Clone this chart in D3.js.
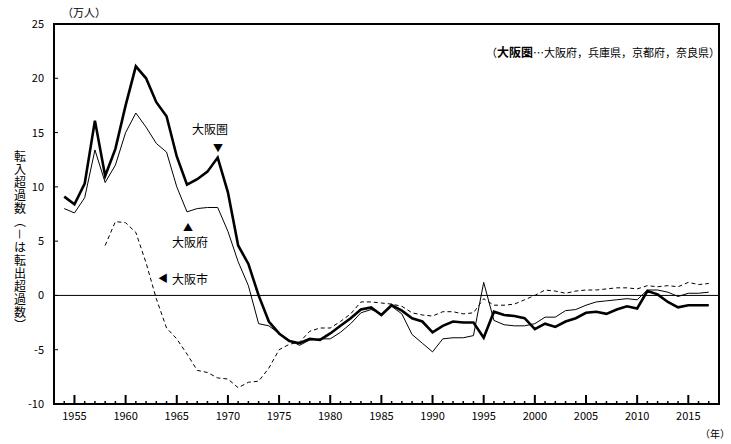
<!DOCTYPE html>
<html><head><meta charset="utf-8">
<script src="https://cdn.jsdelivr.net/npm/d3@7"></script>
<style>body{margin:0;background:#fff}text{font-family:"Noto Sans CJK JP",sans-serif}</style>
</head><body>
<svg width="731" height="444"></svg>
<script>
var years = d3.range(1954, 2018);
var kenValues = [9.1,8.4,10.3,16.1,11.0,13.5,17.5,21.1,20.0,17.8,16.5,12.8,10.2,10.7,11.4,12.7,9.5,4.6,2.9,0.0,-2.4,-3.5,-4.2,-4.4,-4.0,-4.1,-3.5,-2.8,-2.1,-1.3,-1.1,-1.8,-0.9,-1.4,-2.1,-2.4,-3.4,-2.8,-2.4,-2.5,-2.5,-3.9,-1.5,-1.8,-1.9,-2.1,-3.1,-2.6,-2.9,-2.4,-2.1,-1.6,-1.5,-1.7,-1.3,-1.0,-1.2,0.4,0.1,-0.6,-1.1,-0.9,-0.9,-0.9];
var fuValues = [8.0,7.6,9.0,13.4,10.4,12.0,15.0,16.8,15.5,14.0,13.2,10.0,7.7,8.0,8.1,8.1,5.9,3.1,0.9,-2.6,-2.8,-3.5,-4.1,-4.6,-4.1,-4.0,-4.0,-3.4,-2.6,-1.6,-1.3,-1.7,-1.0,-1.7,-3.6,-4.4,-5.2,-4.0,-3.9,-3.9,-3.7,1.2,-2.3,-2.7,-2.8,-2.8,-2.6,-2.0,-2.0,-1.4,-1.3,-0.9,-0.6,-0.5,-0.4,-0.3,-0.4,0.5,0.5,0.3,-0.1,0.2,0.2,0.3];
var shiYears = d3.range(1958, 2018);
var shiValues = [4.6,6.8,6.7,5.8,3.0,-0.3,-3.0,-4.0,-5.4,-6.9,-7.1,-7.6,-7.7,-8.5,-8.0,-7.9,-6.7,-5.0,-4.5,-4.3,-3.3,-3.0,-3.0,-2.4,-1.7,-0.6,-0.6,-0.7,-0.8,-1.0,-1.6,-1.8,-1.9,-1.5,-1.5,-1.7,-1.6,-0.3,-0.9,-0.9,-0.8,-0.4,0.0,0.5,0.4,0.2,0.4,0.5,0.5,0.6,0.7,0.7,0.6,0.9,0.8,0.9,0.8,1.2,1.0,1.1];
var yTicks = [25,20,15,10,5,0,-5,-10];
var xTicks = [1955,1960,1965,1970,1975,1980,1985,1990,1995,2000,2005,2010,2015];

var svg = d3.select("svg");
var L = 54, R = 719, T = 24, B = 404;
var x = d3.scaleLinear().domain([1953, 2018]).range([L, R]);
var y = d3.scaleLinear().domain([-10, 25]).range([B, T]);

// frame
svg.append("rect").attr("x", L).attr("y", T).attr("width", R - L).attr("height", B - T)
  .attr("fill", "none").attr("stroke", "#000").attr("stroke-width", 2);
svg.append("line").attr("x1", L).attr("x2", R).attr("y1", y(0)).attr("y2", y(0))
  .attr("stroke", "#000").attr("stroke-width", 1);

// y ticks
yTicks.forEach(function(v){
  svg.append("line").attr("x1", L).attr("x2", L + 4).attr("y1", y(v)).attr("y2", y(v)).attr("stroke", "#000");
  svg.append("text").attr("x", L - 10).attr("y", y(v) + 4).attr("text-anchor", "end")
    .attr("font-size", 11).text(v);
});
// x ticks
d3.range(1954, 2018).forEach(function(yr){
  var major = xTicks.indexOf(yr) >= 0;
  svg.append("line").attr("x1", x(yr)).attr("x2", x(yr)).attr("y1", B).attr("y2", B - (major ? 9 : 3))
    .attr("stroke", "#000").attr("stroke-width", major ? 2 : 1.5);
});
xTicks.forEach(function(yr){
  svg.append("text").attr("x", x(yr)).attr("y", 420).attr("text-anchor", "middle")
    .attr("font-size", 11).text(yr);
});

var line = d3.line().x(function(d){ return x(d[0]); }).y(function(d){ return y(d[1]); });
svg.append("path").datum(d3.zip(shiYears, shiValues)).attr("d", line)
  .attr("fill", "none").attr("stroke", "#000").attr("stroke-width", 1).attr("stroke-dasharray", "4,3");
svg.append("path").datum(d3.zip(years, fuValues)).attr("d", line)
  .attr("fill", "none").attr("stroke", "#000").attr("stroke-width", 1);
svg.append("path").datum(d3.zip(years, kenValues)).attr("d", line)
  .attr("fill", "none").attr("stroke", "#000").attr("stroke-width", 2.6);

// labels
svg.append("text").attr("x", 62).attr("y", 17).attr("font-size", 11).text("（万人）");
svg.append("text").attr("x", 700).attr("y", 438).attr("font-size", 10).text("（年）");
var yt = svg.append("text").attr("font-size", 12).attr("writing-mode", "tb")
  .attr("x", 20).attr("y", 150).attr("letter-spacing", 1);
yt.text("転入超過数（－は転出超過数）");
var note = svg.append("text").attr("x", 720).attr("y", 57).attr("text-anchor", "end").attr("font-size", 11);
note.append("tspan").text("（");
note.append("tspan").attr("font-weight", "bold").attr("font-size", 12).text("大阪圏");
note.append("tspan").text("…大阪府，兵庫県，京都府，奈良県）");

svg.append("text").attr("x", 210).attr("y", 134).attr("text-anchor", "middle").attr("font-size", 12).text("大阪圏");
svg.append("text").attr("x", 218).attr("y", 152).attr("text-anchor", "middle").attr("font-size", 10).text("▼");
svg.append("text").attr("x", 188).attr("y", 231).attr("text-anchor", "middle").attr("font-size", 10).text("▲");
svg.append("text").attr("x", 190).attr("y", 247).attr("text-anchor", "middle").attr("font-size", 12).text("大阪府");
svg.append("text").attr("x", 163).attr("y", 282).attr("text-anchor", "middle").attr("font-size", 10).text("◀");
svg.append("text").attr("x", 172).attr("y", 284).attr("font-size", 12).text("大阪市");
</script>
</body></html>
